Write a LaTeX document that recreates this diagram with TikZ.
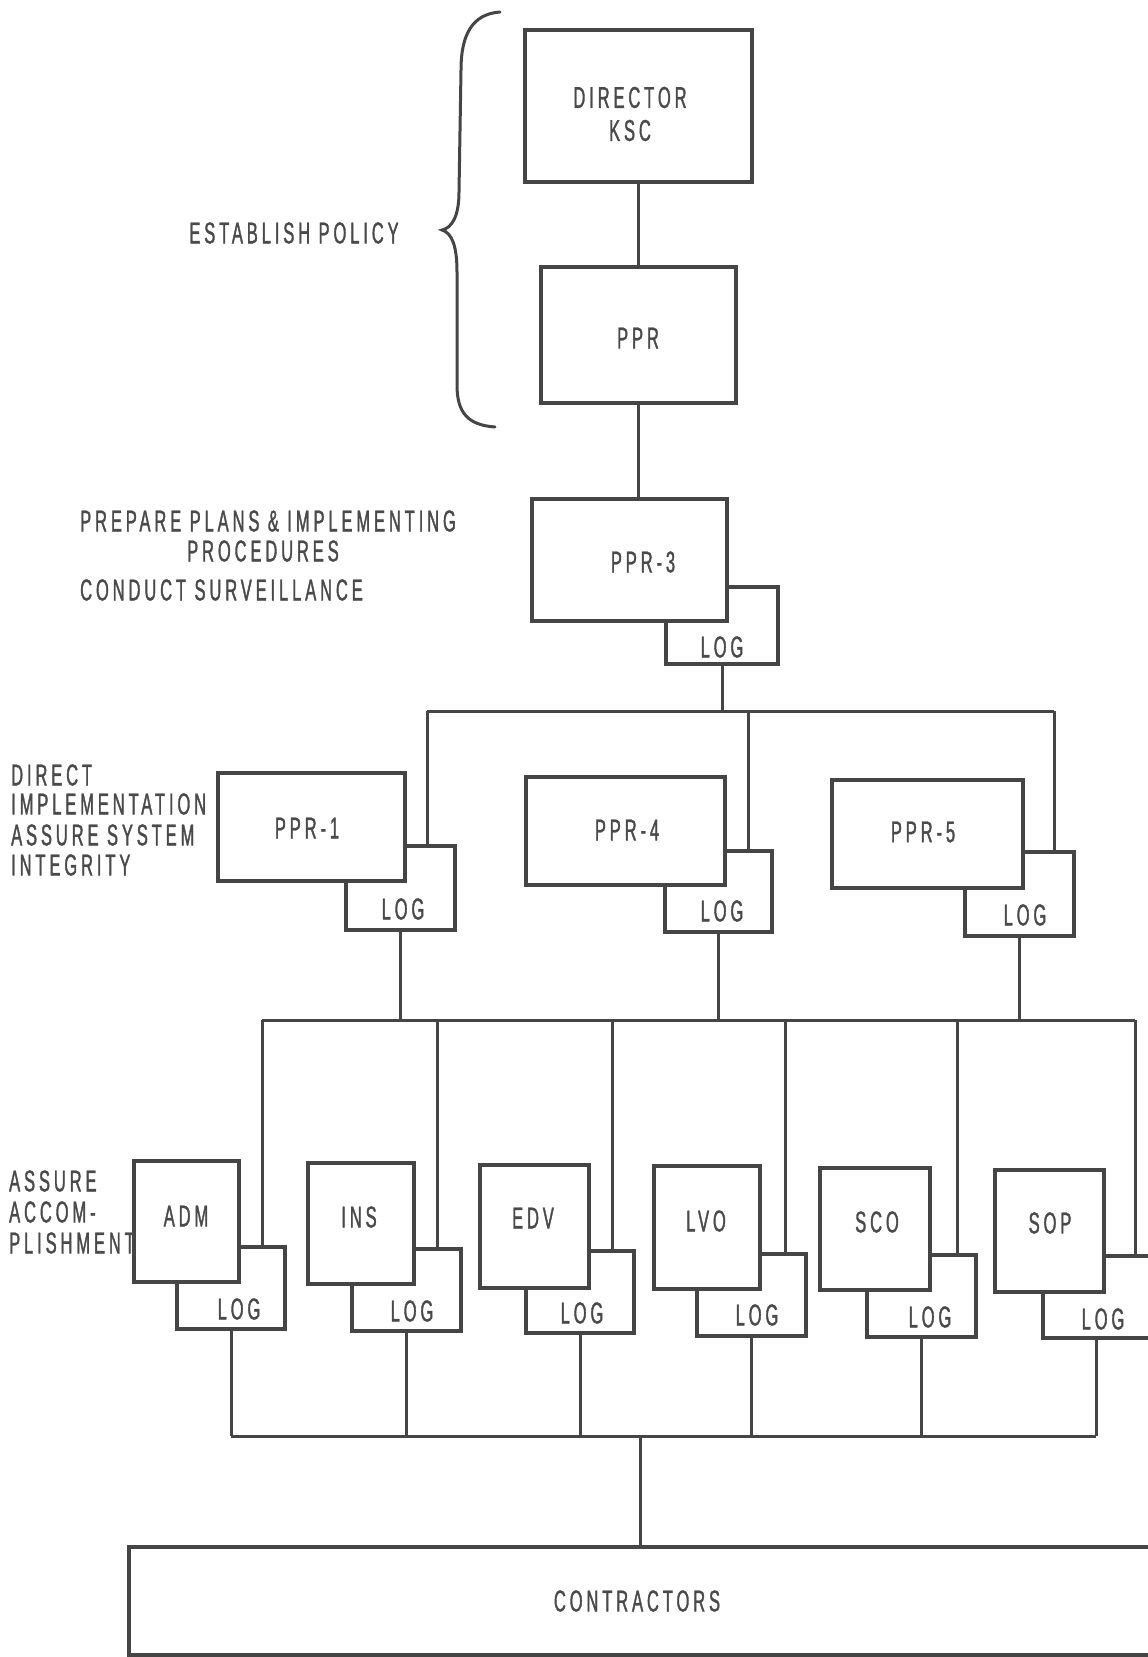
\documentclass[tikz,border=0pt]{standalone}
\usepackage{fontspec}
\setmainfont[FakeStretch=0.55,LetterSpace=13,FakeBold=1.2]{Liberation Sans}
\definecolor{ink}{HTML}{454545}
\definecolor{txt}{HTML}{4A4A4A}
\tikzset{
  box/.style={draw=ink, line width=4.2pt, fill=white, inner sep=0pt, outer sep=0pt},
  conn/.style={draw=ink, line width=3pt},
  lbl/.style={text=txt, font=\fontsize{30}{33}\selectfont, inner sep=0pt},
}
\newcommand\mybox[5]{\node[box,minimum width=#4pt,minimum height=#5pt] (#1) at (#2,#3) {};}
\begin{document}
\begin{tikzpicture}[x=1pt,y=-1pt]
\useasboundingbox[fill=white] (0,0) rectangle (1148,1657);

% ---------- boxes: LOG boxes first, main boxes on top
\mybox{dir}{638.5}{106}{227}{152}
\mybox{ppr}{638.5}{335}{195}{136}
\mybox{log3}{722}{625.5}{112}{77}
\mybox{ppr3}{629.5}{560}{195}{122}

\mybox{log1}{400.5}{888}{109}{84}
\mybox{ppr1}{311.5}{827}{187}{108}
\mybox{log4}{718.5}{891.5}{107}{81}
\mybox{ppr4}{625.5}{831}{199}{108}
\mybox{log5}{1019.5}{894}{109}{84}
\mybox{ppr5}{927.5}{834}{191}{108}

\mybox{admlog}{231}{1288}{108}{82}
\mybox{adm}{186.5}{1221.5}{105}{121}
\mybox{inslog}{406.5}{1290}{109}{82}
\mybox{ins}{361}{1223.5}{106}{121}
\mybox{edvlog}{580}{1292}{108}{82}
\mybox{edv}{534.5}{1226.5}{109}{123}
\mybox{lvolog}{751.5}{1295}{109}{82}
\mybox{lvo}{707}{1227.5}{106}{123}
\mybox{scolog}{921.5}{1296}{109}{82}
\mybox{sco}{875}{1229}{110}{122}
\mybox{soplog}{1101}{1297}{116}{82}
\mybox{sop}{1049.5}{1231}{109}{122}

\mybox{contr}{640}{1601}{1022}{108}

% ---------- bus coordinates
\coordinate (b1a) at (427,711);
\coordinate (b1b) at (748,711);
\coordinate (b1c) at (1054,711);
\coordinate (b2a) at (262,1020);
\coordinate (b2b) at (437,1020);
\coordinate (b2c) at (612,1020);
\coordinate (b2d) at (785,1020);
\coordinate (b2e) at (957,1020);
\coordinate (b2f) at (1135,1020);
\coordinate (b3) at (640,1436);
\coordinate (b3r) at (1096,1436);

% ---------- connectors
\draw[conn] (dir.south) -- (dir.south |- ppr.north);
\draw[conn] (ppr.south) -- (ppr.south |- ppr3.north);
\draw[conn] (log3.south) -- (log3.south |- b1a);
\draw[conn] (b1a) -- (b1c);
\draw[conn] (b1a) -- (b1a |- log1.north);
\draw[conn] (b1b) -- (b1b |- log4.north);
\draw[conn] (b1c) -- (b1c |- log5.north);

\draw[conn] (log1.south) -- (log1.south |- b2a);
\draw[conn] (log4.south) -- (log4.south |- b2a);
\draw[conn] (log5.south) -- (log5.south |- b2a);
\draw[conn] (b2a) -- (b2f);
\draw[conn] (b2a) -- (b2a |- admlog.north);
\draw[conn] (b2b) -- (b2b |- inslog.north);
\draw[conn] (b2c) -- (b2c |- edvlog.north);
\draw[conn] (b2d) -- (b2d |- lvolog.north);
\draw[conn] (b2e) -- (b2e |- scolog.north);
\draw[conn] (b2f) -- (b2f |- soplog.north);

\draw[conn] (admlog.south) -- (admlog.south |- b3);
\draw[conn] (inslog.south) -- (inslog.south |- b3);
\draw[conn] (edvlog.south) -- (edvlog.south |- b3);
\draw[conn] (lvolog.south) -- (lvolog.south |- b3);
\draw[conn] (scolog.south) -- (scolog.south |- b3);
\draw[conn] (b3r |- soplog.south) -- (b3r);
\draw[conn] (admlog.south |- b3) -- (b3r);
\draw[conn] (b3) -- (contr.north);

% ---------- brace
\draw[ink, line width=3pt, line cap=round]
  (500,12) .. controls (472,14) and (461,35) .. (461,70)
  -- (459,192) .. controls (459,216) and (452,228) .. (442,230)
  .. controls (452,233) and (457,246) .. (457,272)
  -- (457,385) .. controls (457,413) and (468,425) .. (495,427);

% ---------- box texts
\node[lbl, align=center] (tdir) at (630,114) {DIRECTOR\\KSC};
\node[lbl] (tppr) at (638,338) {PPR};
\node[lbl] (tppr3) at (643,562) {PPR-3};
\node[lbl] (tlog3) at (722,647) {LOG};
\node[lbl] (tppr1) at (307,828) {PPR-1};
\node[lbl] (tlog1) at (403,909) {LOG};
\node[lbl] (tppr4) at (627,830) {PPR-4};
\node[lbl] (tlog4) at (722,911) {LOG};
\node[lbl] (tppr5) at (923,832) {PPR-5};
\node[lbl] (tlog5) at (1025,915) {LOG};

\node[lbl] (tadm) at (186,1216) {ADM};
\node[lbl] (tadml) at (239,1309) {LOG};
\node[lbl] (tins) at (359,1217) {INS};
\node[lbl] (tinsl) at (412,1311) {LOG};
\node[lbl] (tedv) at (533,1218) {EDV};
\node[lbl] (tedvl) at (582,1313) {LOG};
\node[lbl] (tlvo) at (706,1221) {LVO};
\node[lbl] (tlvol) at (757,1315) {LOG};
\node[lbl] (tsco) at (877,1222) {SCO};
\node[lbl] (tscol) at (930,1317) {LOG};
\node[lbl] (tsop) at (1050,1223) {SOP};
\node[lbl] (tsopl) at (1103,1319) {LOG};
\node[lbl] (tcontr) at (637,1601) {CONTRACTORS};

% ---------- side texts
\node[lbl] (s1) at (294,233) {ESTABLISH POLICY};
\node[lbl, anchor=west] (s2) at (80,521) {PREPARE PLANS \& IMPLEMENTING};
\node[lbl, anchor=west] (s3) at (187,551) {PROCEDURES};
\node[lbl, anchor=west] (s4) at (80,590) {CONDUCT SURVEILLANCE};
\node[lbl, anchor=west] (s5) at (11,775) {DIRECT};
\node[lbl, anchor=west] (s6) at (11,804) {IMPLEMENTATION};
\node[lbl, anchor=west] (s7) at (11,835) {ASSURE SYSTEM};
\node[lbl, anchor=west] (s8) at (11,865) {INTEGRITY};
\node[lbl, anchor=west] (s9) at (9,1181) {ASSURE};
\node[lbl, anchor=west] (s10) at (9,1212) {ACCOM-};
\node[lbl, anchor=west] (s11) at (9,1243) {PLISHMENT};
\end{tikzpicture}
\end{document}
